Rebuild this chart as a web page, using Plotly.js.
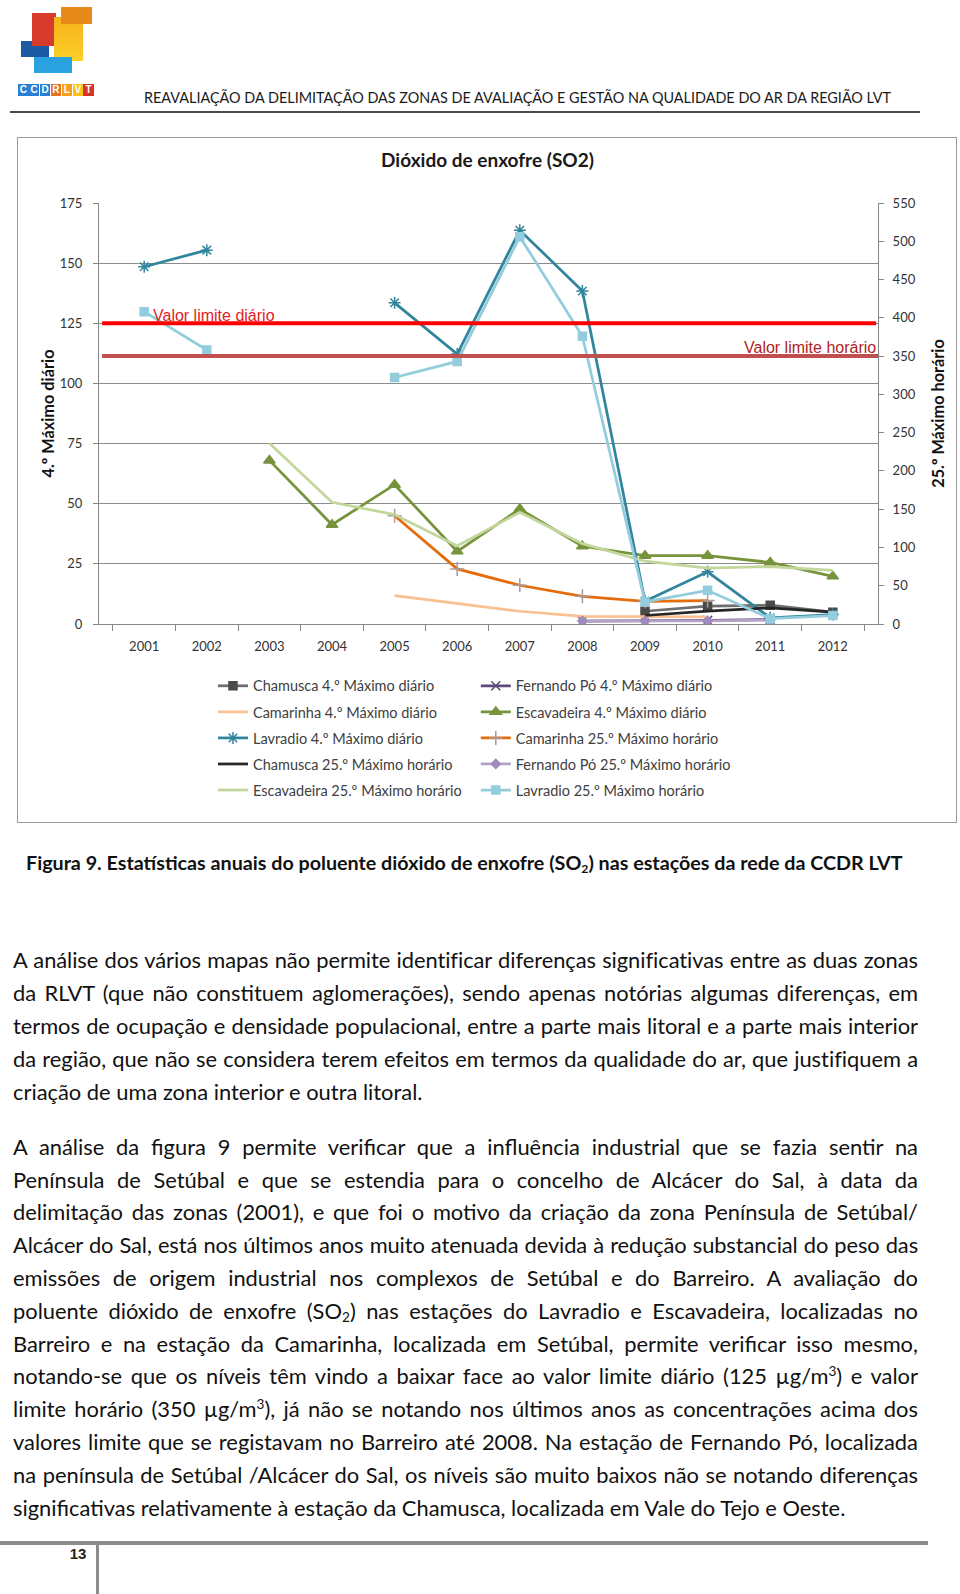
<!DOCTYPE html>
<html><head><meta charset="utf-8">
<script src="https://cdn.plot.ly/plotly-3.0.1.min.js"></script>
<style>
html,body{margin:0;padding:0;background:#fff;}
#page{position:relative;width:960px;height:1594px;overflow:hidden;background:#fff;font-family:Lato,'Open Sans',sans-serif;color:#111;}
.abs{position:absolute;}
.ln{position:absolute;left:13px;width:905px;height:33px;line-height:33px;text-align:justify;text-align-last:justify;}
.ln.last{text-align:left;text-align-last:left;}
sub,sup{font-size:0.62em;line-height:0;}
sub{vertical-align:-0.22em;}
sup{vertical-align:0.6em;}
#hdr{left:144px;top:88px;white-space:nowrap;font-size:15.5px;color:#1a1a1a;transform-origin:0 0;}
#cap{left:26px;top:846px;height:33px;line-height:33px;white-space:nowrap;font-weight:700;color:#111;}
#chartbox{left:17px;top:136.5px;width:940px;height:686px;box-sizing:border-box;border:1.5px solid #9a9a9a;}
#chart{left:18.5px;top:138px;width:937px;height:683px;}
.logo{position:absolute;}
.lt{position:absolute;top:84px;width:10.5px;height:12px;color:#fff;font:700 10px 'Liberation Sans',Arial,sans-serif;text-align:center;line-height:12px;}
</style></head>
<body><div id="page">
<div class="logo" style="left:21px;top:41px;width:28px;height:16px;background:#1d5aa6;"></div>
<div class="logo" style="left:32px;top:13px;width:24px;height:33px;background:#d63b2b;"></div>
<div class="logo" style="left:54px;top:17px;width:29px;height:44px;background:linear-gradient(#f7b21b,#fbd02a);"></div>
<div class="logo" style="left:61px;top:7px;width:31px;height:17px;background:#e8891c;"></div>
<div class="logo" style="left:34px;top:57px;width:38px;height:16px;background:#2aa2df;"></div>
<div id="logotxt"></div>
<div id="hdr" class="abs">REAVALIAÇÃO DA DELIMITAÇÃO DAS ZONAS DE AVALIAÇÃO E GESTÃO NA QUALIDADE DO AR DA REGIÃO LVT</div>
<div class="abs" style="left:10px;top:111px;width:910px;height:1.5px;background:#4a4a4a;"></div>
<div id="chartbox" class="abs"></div>
<div id="chart" class="abs"></div>
<div id="cap" class="abs">Figura 9. Estatísticas anuais do poluente dióxido de enxofre (SO<sub>2</sub>) nas estações da rede da CCDR LVT</div>
<div id="paras"></div>
<div class="abs" style="left:0;top:1541px;width:928px;height:4px;background:#8c8c8c;"></div>
<div class="abs" style="left:96px;top:1541px;width:3px;height:53px;background:#8c8c8c;"></div>
<div class="abs" style="left:66px;top:1545px;width:24px;text-align:center;font:700 15px 'Liberation Sans',Arial,sans-serif;color:#222;">13</div>
</div>
<script>
// ---------- chart data ----------
const years = ['2001','2002','2003','2004','2005','2006','2007','2008','2009','2010','2011','2012'];
const chamuscaDiario    = [null,null,null,null,null,null,null,null,5.3,7.4,7.8,4.9];
const fernandoDiario    = [null,null,null,null,null,null,null,1.2,1.2,1.5,1.9,null];
const camarinhaDiario   = [null,null,null,null,11.8,8.4,5.3,3.2,3.0,3.0,null,null];
const escavadeiraDiario = [null,null,68,41.3,57.9,30.2,47.8,32.3,28.4,28.4,25.6,19.8];
const lavradioDiario    = [148.5,155.4,null,null,133.5,112.2,163.7,138.4,9.5,21.7,2.6,3.9];
const camarinhaHorario  = [null,null,null,null,141.5,72,50.6,36.2,29.7,30.6,null,null];
const chamuscaHorario   = [null,null,null,null,null,null,null,null,11.1,16.7,21.1,15.4];
const fernandoHorario   = [null,null,null,null,null,null,null,4,4,4,5,null];
const escavadeiraHorario= [null,null,236,159,143,102,146,105,82,73,75,70];
const lavradioHorario   = [408,358,null,null,322,343,506,376,29,44,7,11];
const limiteDiario = 125;
const limiteHorario = 350;
const leftTicks = [0,25,50,75,100,125,150,175];
const rightTicks = [0,50,100,150,200,250,300,350,400,450,500,550];

const F = 'Lato, "Open Sans", sans-serif';
function tr(name, y, axis, color, sym, msize, mcolor, leg, mline) {
  const t = {type:'scatter', x:years, y:y, name:name, yaxis:axis, legend:leg, legendgroup:name,
    line:{color:color, width:2.75}, mode: sym ? 'lines+markers' : 'lines', hoverinfo:'skip'};
  if (sym) t.marker = {symbol:sym, size:msize, color:mcolor, line:{color:mline||mcolor, width:1.5}};
  return t;
}
const traces = [
  tr('Chamusca 4.º Máximo diário', chamuscaDiario, 'y', '#6e6e6e', 'square', 8, '#4a4a4a', 'legend'),
  tr('Fernando Pó 4.º Máximo diário', fernandoDiario, 'y', '#604a7b', 'x-thin-open', 9, '#604a7b', 'legend2'),
  tr('Camarinha 4.º Máximo diário', camarinhaDiario, 'y', '#fac090', null, 0, null, 'legend'),
  tr('Escavadeira 4.º Máximo diário', escavadeiraDiario, 'y', '#77933c', 'triangle-up', 10, '#77933c', 'legend2'),
  tr('Lavradio 4.º Máximo diário', lavradioDiario, 'y', '#31859c', 'asterisk-open', 10, '#31859c', 'legend'),
  tr('Camarinha 25.º Máximo horário', camarinhaHorario, 'y2', '#e46c0a', 'cross-thin-open', 10, '#a89a9a', 'legend2'),
  tr('Chamusca 25.º Máximo horário', chamuscaHorario, 'y2', '#262626', null, 0, null, 'legend'),
  tr('Fernando Pó 25.º Máximo horário', fernandoHorario, 'y2', '#b3a2c7', 'diamond', 7, '#a08cbc', 'legend2'),
  tr('Escavadeira 25.º Máximo horário', escavadeiraHorario, 'y2', '#c3d69b', null, 0, null, 'legend'),
  tr('Lavradio 25.º Máximo horário', lavradioHorario, 'y2', '#93cddd', 'square', 8, '#93cddd', 'legend2')
];
const axGrey = '#868686';
const tickFont = {family:F, size:13, color:'#333'};
const legFont = {family:F, size:14.5, color:'#404040'};
const layout = {
  width:937, height:683, margin:{l:79.5, r:78.2, t:64.7, b:196.5, pad:0},
  paper_bgcolor:'#fff', plot_bgcolor:'#fff', showlegend:true,
  title:{text:'<b>Dióxido de enxofre (SO2)</b>', x:0.5, xref:'container', xanchor:'center', y:0.9668, yref:'container', yanchor:'middle', font:{family:F, size:19, color:'#1a1a1a'}},
  xaxis:{type:'category', tickson:'boundaries', ticks:'outside', ticklen:6, tickcolor:axGrey, showline:true, linecolor:axGrey, showgrid:false, zeroline:false, tickfont:tickFont, ticklabelstandoff:10},
  yaxis:{range:[0,175], tickmode:'array', tickvals:leftTicks, ticks:'outside', ticklen:5, tickcolor:axGrey, showline:true, linecolor:axGrey, showgrid:true, gridcolor:'#8c8c8c', gridwidth:1, zeroline:false, tickfont:tickFont, ticklabelstandoff:8,
    title:{text:'4.º Máximo diário', font:{family:F, size:16.3, weight:700, color:'#111'}, standoff:1}},
  yaxis2:{range:[0,550], overlaying:'y', side:'right', tickmode:'array', tickvals:rightTicks, ticks:'outside', ticklen:5, tickcolor:axGrey, showline:true, linecolor:axGrey, showgrid:false, zeroline:false, tickfont:tickFont, ticklabelstandoff:6,
    title:{text:'25.º Máximo horário', font:{family:F, size:16.3, weight:700, color:'#111'}, standoff:17}},
  legend:{x:0.1463, xanchor:'left', y:-0.109, yanchor:'top', orientation:'v', tracegroupgap:4.2, font:legFont, bgcolor:'rgba(0,0,0,0)', borderwidth:0},
  legend2:{x:0.4837, xanchor:'left', y:-0.109, yanchor:'top', orientation:'v', tracegroupgap:4.2, font:legFont, bgcolor:'rgba(0,0,0,0)', borderwidth:0},
  shapes:[
    {type:'line', layer:'above', xref:'paper', x0:0.004, x1:0.9975, yref:'y', y0:limiteDiario, y1:limiteDiario, line:{color:'#ff0000', width:4}},
    {type:'line', layer:'above', xref:'paper', x0:0.004, x1:1, yref:'y2', y0:limiteHorario, y1:limiteHorario, line:{color:'#c0504d', width:4}}
  ],
  annotations:[
    {text:'Valor limite diário', xref:'paper', x:0.067, xanchor:'left', yref:'y', y:limiteDiario, yanchor:'middle', yshift:8, showarrow:false, font:{family:'"Liberation Sans", Arial, sans-serif', size:16, color:'#e3201b'}},
    {text:'Valor limite horário', xref:'paper', x:1, xanchor:'right', yref:'y2', y:limiteHorario, yanchor:'middle', yshift:9, showarrow:false, font:{family:'"Liberation Sans", Arial, sans-serif', size:16, color:'#b01e1e'}}
  ]
};
Plotly.newPlot('chart', traces, layout, {displayModeBar:false, staticPlot:true});

// ---------- page text ----------
const para1 = [
 'A análise dos vários mapas não permite identificar diferenças significativas entre as duas zonas',
 'da RLVT (que não constituem aglomerações), sendo apenas notórias algumas diferenças, em',
 'termos de ocupação e densidade populacional, entre a parte mais litoral e a parte mais interior',
 'da região, que não se considera terem efeitos em termos da qualidade do ar, que justifiquem a',
 'criação de uma zona interior e outra litoral.'
];
const para2 = [
 'A análise da figura 9 permite verificar que a influência industrial que se fazia sentir na',
 'Península de Setúbal e que se estendia para o concelho de Alcácer do Sal, à data da',
 'delimitação das zonas (2001), e que foi o motivo da criação da zona Península de Setúbal/',
 'Alcácer do Sal, está nos últimos anos muito atenuada devida à redução substancial do peso das',
 'emissões de origem industrial nos complexos de Setúbal e do Barreiro. A avaliação do',
 'poluente dióxido de enxofre (SO<sub>2</sub>) nas estações do Lavradio e Escavadeira, localizadas no',
 'Barreiro e na estação da Camarinha, localizada em Setúbal, permite verificar isso mesmo,',
 'notando-se que os níveis têm vindo a baixar face ao valor limite diário (125 µg/m<sup>3</sup>) e valor',
 'limite horário (350 µg/m<sup>3</sup>), já não se notando nos últimos anos as concentrações acima dos',
 'valores limite que se registavam no Barreiro até 2008. Na estação de Fernando Pó, localizada',
 'na península de Setúbal /Alcácer do Sal, os níveis são muito baixos não se notando diferenças',
 'significativas relativamente à estação da Chamusca, localizada em Vale do Tejo e Oeste.'
];
const paras = document.getElementById('paras');
const lineStep = 32.82;
function natWidth(html, size) {
  const probe = document.createElement('span');
  probe.style.cssText = 'position:absolute;visibility:hidden;white-space:nowrap;font-family:' + F + ';font-size:' + size + 'px';
  probe.innerHTML = html;
  document.body.appendChild(probe);
  const w = probe.getBoundingClientRect().width;
  probe.remove();
  return w;
}
const fs = 18 * 833 / natWidth(para2[para2.length - 1], 18);
function addPara(lines, firstCenter) {
  lines.forEach((t, i) => {
    const d = document.createElement('div');
    const last = i === lines.length - 1;
    d.className = 'ln' + (last ? ' last' : '');
    d.style.top = (firstCenter - 16.5 + i * lineStep) + 'px';
    d.style.fontSize = fs + 'px';
    d.innerHTML = t;
    if (!last) {
      const w = natWidth(t, fs);
      if (w > 895) {
        const n = d.textContent.length;
        d.style.letterSpacing = ((895 - w) / n) + 'px';
      }
    }
    paras.appendChild(d);
  });
}
addPara(para1, 959.8);
addPara(para2, 1146.2);
// caption width 877px
const cap = document.getElementById('cap');
cap.style.fontSize = '18px';
cap.style.fontSize = (18 * 877 / cap.getBoundingClientRect().width) + 'px';
// header width 747px
const hdr = document.getElementById('hdr');
hdr.style.transform = 'scaleX(' + (747 / hdr.getBoundingClientRect().width) + ')';
// logo letters
const letters = ['C','C','D','R','L','V','T'];
const lcols = ['#2a7fd4','#2a7fd4','#2a7fd4','#e9741f','#f4a11d','#f7c21a','#d7322a'];
const lt = document.getElementById('logotxt');
letters.forEach((c, i) => {
  const d = document.createElement('div');
  d.className = 'lt';
  d.style.left = (18 + i * 10.9) + 'px';
  d.style.background = lcols[i];
  d.textContent = c;
  lt.appendChild(d);
});
</script>
</body></html>
